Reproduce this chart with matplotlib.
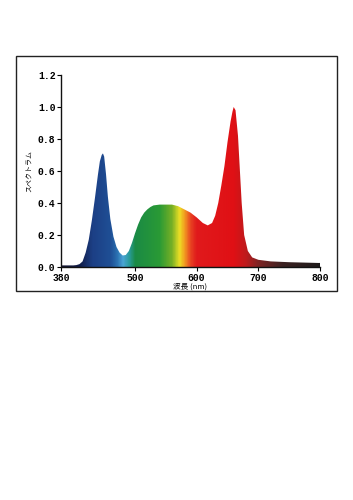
import numpy as np
import matplotlib.pyplot as plt
from matplotlib.colors import LinearSegmentedColormap
from matplotlib.patches import Rectangle

plt.rcParams['font.family'] = ['Noto Sans CJK JP', 'DejaVu Sans']

# spectrum
wl = [380, 390, 400, 405, 410, 415, 420, 425, 430, 435, 440, 443, 446, 448,
      450, 453, 456, 460, 465, 470, 475, 480, 485, 490, 495, 500, 505, 510,
      515, 520, 525, 530, 540, 550, 560, 570, 580, 590, 600, 610, 618, 625,
      630, 635, 640, 645, 650, 655, 658, 660, 663, 667, 670, 673, 677, 683,
      690, 700, 720, 750, 800]
spec = [0.01, 0.01, 0.01, 0.012, 0.018, 0.035, 0.09, 0.17, 0.29, 0.43, 0.58,
        0.66, 0.70, 0.71, 0.69, 0.58, 0.44, 0.30, 0.19, 0.125, 0.09, 0.072,
        0.075, 0.10, 0.15, 0.21, 0.265, 0.31, 0.34, 0.36, 0.375, 0.385, 0.39,
        0.39, 0.39, 0.38, 0.36, 0.34, 0.31, 0.275, 0.26, 0.275, 0.32, 0.40,
        0.51, 0.63, 0.78, 0.91, 0.97, 1.00, 0.98, 0.82, 0.61, 0.40, 0.20,
        0.10, 0.06, 0.045, 0.035, 0.03, 0.025]

# colour along the wavelength axis
col_wl = [380, 410, 430, 460, 470, 480, 490, 500, 540, 560, 572, 580, 590,
          600, 660, 680, 700, 740, 800]
col_hex = ['#151530', '#101c48', '#1c3f85', '#1f4f95', '#2a6fb0', '#4aa4d4',
           '#2a9c9c', '#1a8a45', '#2a9a35', '#78b025', '#ece025', '#f2a020',
           '#e84522', '#e01a1c', '#e01015', '#c01a1c', '#802424', '#3c2222',
           '#1e1a1a']

xticks = [380, 500, 600, 700, 800]
yticks = [0.0, 0.2, 0.4, 0.6, 0.8, 1.0, 1.2]

fig = plt.figure(figsize=(3.53, 5.0), dpi=100)
fig.patch.set_facecolor('white')
fig.patches.append(Rectangle((16/353, 1-291/500), 321/353, 235/500,
                             transform=fig.transFigure, fill=False,
                             edgecolor='#222222', lw=1.0))

ax = fig.add_axes([61/353, 1-267/500, 259/353, 192/500])

pos = [(w - 380) / 420 for w in col_wl]
cmap = LinearSegmentedColormap.from_list('spec', list(zip(pos, col_hex)))
grad = np.linspace(0, 1, 600).reshape(1, -1)
img = ax.imshow(grad, cmap=cmap, extent=[380, 800, 0, 1.2], aspect='auto',
                origin='lower', zorder=1)
poly = ax.fill_between(wl, spec, 0, facecolor='none', edgecolor='none')
img.set_clip_path(poly.get_paths()[0], transform=ax.transData)
ax.plot([800, 800], [0, spec[-1]], color='#111111', lw=1.0, zorder=2)

ax.set_xlim(380, 800)
ax.set_ylim(0, 1.2)
ax.set_xticks(xticks)
ax.set_yticks(yticks)
ax.set_yticklabels(['%.1f' % v for v in yticks])
for s in ['top', 'right']:
    ax.spines[s].set_visible(False)
for s in ['left', 'bottom']:
    ax.spines[s].set_linewidth(1.0)
    ax.spines[s].set_color('#111111')
ax.tick_params(length=3, width=0.8, pad=1)
for lab in ax.get_xticklabels() + ax.get_yticklabels():
    lab.set_family('Liberation Mono')
    lab.set_fontweight('bold')
    lab.set_fontsize(7)

ax.set_ylabel('スペクトラム', fontsize=5, labelpad=3)
ax.set_xlabel('波長 (nm)', fontsize=5.5, labelpad=0)

fig.savefig('out.png', dpi=100)
